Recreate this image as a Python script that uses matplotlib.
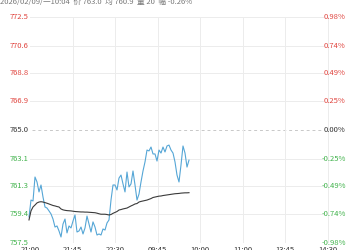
import numpy as np
import matplotlib
matplotlib.use("Agg")
import matplotlib.pyplot as plt
import matplotlib.transforms as mtransforms

plt.rcParams['font.family'] = ['Noto Sans CJK SC', 'DejaVu Sans']

# price per point (one point ~ one step on the time axis)
price = [759.23, 760.35, 760.29, 761.88, 761.55, 760.89, 761.35, 760.55, 759.89, 759.82,
         759.63, 759.43, 759.09, 758.56, 758.63, 758.30, 757.90, 758.76, 759.09, 758.17,
         758.63, 758.50, 758.96, 759.36, 758.23, 758.30, 758.56, 758.10, 758.50, 759.29,
         758.76, 758.23, 758.90, 758.56, 758.03, 758.10, 758.03, 758.43, 758.36, 758.83,
         759.03, 760.35, 761.35, 761.35, 761.02, 761.81, 762.01, 761.42, 760.89, 762.21,
         761.22, 761.42, 762.28, 761.35, 760.35, 760.75, 761.55, 762.28, 762.88, 763.67,
         763.61, 763.87, 763.41, 763.41, 762.94, 763.67, 763.47, 763.87, 763.54, 763.94,
         764.00, 763.67, 763.47, 762.88, 762.01, 761.55, 762.68, 763.94, 763.47, 762.54,
         763.00]
avg_price = [759.03, 759.63, 759.89, 760.02, 760.16, 760.22, 760.24, 760.22, 760.18, 760.14,
             760.09, 760.04, 759.99, 759.96, 759.92, 759.89, 759.76, 759.70, 759.67, 759.65,
             759.64, 759.63, 759.61, 759.59, 759.58, 759.57, 759.56, 759.56, 759.55, 759.55,
             759.54, 759.53, 759.52, 759.51, 759.48, 759.44, 759.41, 759.41, 759.41, 759.39,
             759.36, 759.39, 759.47, 759.53, 759.59, 759.69, 759.72, 759.76, 759.79, 759.82,
             759.89, 759.96, 760.02, 760.09, 760.12, 760.22, 760.26, 760.29, 760.32, 760.35,
             760.40, 760.45, 760.52, 760.55, 760.58, 760.61, 760.62, 760.65, 760.67, 760.69,
             760.71, 760.73, 760.75, 760.77, 760.78, 760.79, 760.81, 760.82, 760.83, 760.83,
             760.84]

prev_close = 765.0
y_levels = [772.5, 770.6, 768.8, 766.9, 765.0, 763.1, 761.3, 759.4, 757.5]
pct_labels = ['0.98%', '0.74%', '0.49%', '0.25%', '0.00%', '-0.25%', '-0.49%', '-0.74%', '-0.98%']
time_labels = ['21:00', '21:45', '22:30', '09:45', '10:00', '11:00', '13:45', '14:30']
title = '2026/02/09/一10:04  价 763.0  均 760.9  量 20  幅 -0.26%'

RED = '#e0443e'
GREEN = '#3fb24a'
GRID = '#ececec'

fig = plt.figure(figsize=(3.5, 2.5), dpi=100)
ax = fig.add_axes([0, 7 / 250, 1, 226 / 250])

x = np.arange(len(price))
tick_pos = 0.5 + 21.25 * np.arange(len(time_labels))

ax.set_xlim(-14.5, 160.5)
ax.set_ylim(757.5, 772.5)

# grid
for lv in y_levels:
    if lv == prev_close:
        ax.axhline(lv, xmin=32 / 350, xmax=323 / 350, color='#c8c8c8', lw=0.7, ls=(0, (3, 3)), zorder=1)
    else:
        ax.axhline(lv, xmin=30 / 350, xmax=323 / 350, color=GRID, lw=0.7, zorder=1)
for tp in tick_pos[1:]:
    ax.axvline(tp, color=GRID, lw=0.7, zorder=1)

ax.plot(x, price, color='#55a6d6', lw=0.8, zorder=3)
ax.plot(x, avg_price, color='#3a3a3a', lw=0.8, zorder=3)

# y labels inside the plot
tr = mtransforms.blended_transform_factory(ax.transAxes, ax.transData)
for lv, pct in zip(y_levels, pct_labels):
    if lv > prev_close:
        c = RED
    elif lv < prev_close:
        c = GREEN
    else:
        c = '#333333'
    ax.text(0.028, lv, '%.1f' % lv, transform=tr, ha='left', va='center', fontsize=5.5, color=c)
    ax.text(0.988, lv, pct, transform=tr, ha='right', va='center', fontsize=5.5, color=c)

ax.set_xticks(tick_pos)
ax.set_xticklabels(time_labels, fontsize=5.5, color='#333333')
ax.tick_params(axis='x', length=0, pad=2.5)
ax.set_yticks([])
for s in ax.spines.values():
    s.set_visible(False)

fig.text(0.0, 1 - 2 / 250, title, ha='left', va='center', fontsize=5.5, color='#777777')

fig.savefig('out.png', dpi=100)
